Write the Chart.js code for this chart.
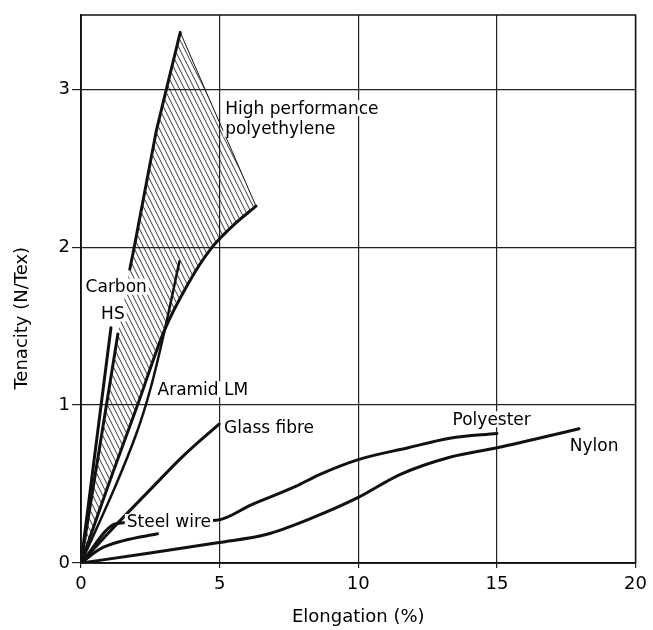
<!DOCTYPE html>
<html>
<head>
<meta charset="utf-8">
<script src="https://cdn.jsdelivr.net/npm/chart.js@4/dist/chart.umd.min.js"></script>
<style>
  html, body { margin: 0; padding: 0; background: #fff; }
  #wrap { width: 653px; height: 630px; position: relative; }
</style>
</head>
<body>
<div id="wrap"><canvas id="c"></canvas></div>
<script>
// Tenacity (N/Tex) against elongation (%) for common fibres and wire.
const xTicks = [0, 5, 10, 15, 20];
const yTicks = [0, 1, 2, 3];

// High performance polyethylene band: upper (left) edge ending at the right-hand corner, and lower edge
const hppeUpperX = [0, 1.33, 1.76, 1.92, 2.72, 3.08, 3.58, 6.31];
const hppeUpperY = [0, 1.45, 1.86, 2.00, 2.74, 3.00, 3.36, 2.26];
const hppeLowerX = [0, 1.00, 2.04, 3.00, 3.90, 4.73, 5.50, 6.31];
const hppeLowerY = [0, 0.50, 1.00, 1.47, 1.78, 2.00, 2.14, 2.26];

const carbonX = [0, 1.08];
const carbonY = [0, 1.49];

const aramidX = [0, 1.20, 2.00, 2.50, 3.00, 3.55];
const aramidY = [0, 0.47, 0.82, 1.10, 1.46, 1.91];

const glassX = [0, 1.04, 2.47, 3.70, 4.98];
const glassY = [0, 0.20, 0.46, 0.68, 0.88];

const steelX = [0, 0.70, 1.50, 2.76];
const steelY = [0, 0.09, 0.14, 0.185];

const polyesterX = [0, 1.30, 3.00, 4.87, 6.16, 7.74, 8.60, 10.0, 11.8, 13.3, 15.0];
const polyesterY = [0, 0.25, 0.265, 0.27, 0.37, 0.485, 0.56, 0.655, 0.73, 0.79, 0.82];

const nylonX = [0, 2.37, 4.98, 6.67, 8.40, 10.0, 11.5, 13.3, 15.0, 17.96];
const nylonY = [0, 0.06, 0.13, 0.18, 0.29, 0.415, 0.56, 0.67, 0.73, 0.85];

// Curve labels (anchor in data units)
const labelTexts = ['High performance', 'polyethylene', 'Carbon', 'HS', 'Aramid LM', 'Glass fibre', 'Steel wire', 'Polyester', 'Nylon'];
const labelX = [5.20, 5.20, 1.27, 1.15, 2.76, 5.16, 1.65, 13.40, 17.63];
const labelY = [2.88, 2.75, 1.75, 1.58, 1.10, 0.855, 0.26, 0.91, 0.745];
const labelAlign = ['left', 'left', 'center', 'center', 'left', 'left', 'left', 'left', 'left'];

const FONT = "'DejaVu Sans', sans-serif";
Chart.defaults.font.family = FONT;
Chart.defaults.color = '#000';

function hatchPattern() {
  const c = document.createElement('canvas');
  c.width = 5; c.height = 10;
  const g = c.getContext('2d');
  g.strokeStyle = '#222';
  g.lineWidth = 0.9;
  for (const dx of [-5, 0, 5]) {
    g.beginPath();
    g.moveTo(dx - 1, -2);
    g.lineTo(dx + 6, 12);
    g.stroke();
  }
  return g.createPattern(c, 'repeat');
}

function pts(xs, ys) { return xs.map((v, i) => ({ x: v, y: ys[i] })); }

function curve(xs, ys, width, extra) {
  return Object.assign({
    data: pts(xs, ys),
    borderColor: '#111',
    borderWidth: width,
    pointRadius: 0,
    fill: false,
    cubicInterpolationMode: 'monotone',
    borderCapStyle: 'round',
    borderJoinStyle: 'round'
  }, extra || {});
}

const smooth = { cubicInterpolationMode: 'default', tension: 0.3 };
const straight = { cubicInterpolationMode: 'default', tension: 0 };
const lastEdge = hppeUpperX.length - 2;

const datasets = [
  // hatched band between the two polyethylene edges
  curve(hppeUpperX, hppeUpperY, 1, Object.assign({
    borderColor: 'rgba(0,0,0,0)', fill: '+1', backgroundColor: hatchPattern()
  }, straight)),
  curve(hppeLowerX, hppeLowerY, 3, smooth),
  // drawn upper edge, broken behind the carbon label
  curve(hppeUpperX, hppeUpperY, 3, Object.assign({
    segment: {
      borderColor: c => (c.p0DataIndex === 1 ? 'rgba(0,0,0,0)' : '#111'),
      borderWidth: c => (c.p0DataIndex === lastEdge ? 1 : 3)
    }
  }, straight)),
  curve(carbonX, carbonY, 3, straight),
  curve(aramidX, aramidY, 2.5, smooth),
  curve(glassX, glassY, 3),
  curve(steelX, steelY, 3),
  curve(polyesterX, polyesterY, 3),
  curve(nylonX, nylonY, 3)
];

const fibreLabels = {
  id: 'fibreLabels',
  beforeDatasetsDraw(chart) {
    const { ctx, chartArea: a } = chart;
    ctx.save();
    ctx.strokeStyle = '#111';
    ctx.lineWidth = 1.5;
    ctx.strokeRect(a.left, a.top, a.right - a.left, a.bottom - a.top);
    ctx.restore();
  },
  afterDatasetsDraw(chart) {
    const { ctx, scales: { x, y } } = chart;
    ctx.save();
    ctx.font = '17px ' + FONT;
    ctx.textBaseline = 'middle';
    ctx.textAlign = 'left';
    labelTexts.forEach((t, i) => {
      const px = x.getPixelForValue(labelX[i]);
      const py = y.getPixelForValue(labelY[i]);
      const w = ctx.measureText(t).width;
      const left = labelAlign[i] === 'center' ? px - w / 2 : px;
      ctx.fillStyle = '#fff';
      ctx.fillRect(left - 2, py - 8, w + 4, 16);
      ctx.fillStyle = '#000';
      ctx.fillText(t, left, py + 1);
    });
    // vertical axis title
    ctx.font = '18px ' + FONT;
    ctx.textAlign = 'center';
    ctx.translate(22, y.getPixelForValue(1.55));
    ctx.rotate(-Math.PI / 2);
    ctx.fillText('Tenacity (N/Tex)', 0, 0);
    ctx.restore();
  }
};

new Chart(document.getElementById('c'), {
  type: 'line',
  data: { datasets },
  options: {
    responsive: true,
    maintainAspectRatio: false,
    animation: false,
    events: [],
    layout: { padding: { top: 15, right: 14, left: 0, bottom: 0 } },
    plugins: { legend: { display: false }, tooltip: { enabled: false } },
    scales: {
      x: {
        type: 'linear', min: 0, max: 20,
        afterBuildTicks: s => { s.ticks = xTicks.map(v => ({ value: v })); },
        afterFit: s => { s.height = 67; },
        ticks: { font: { size: 18 }, color: '#000', padding: 6, maxRotation: 0 },
        grid: { color: '#222', lineWidth: 1.2, tickLength: 5 },
        border: { display: true, color: '#111', width: 1.5 },
        title: { display: true, text: 'Elongation (%)', font: { size: 18 }, color: '#000', padding: { top: 0, bottom: 2 } }
      },
      y: {
        type: 'linear', min: 0, max: 3.47,
        afterBuildTicks: s => { s.ticks = yTicks.map(v => ({ value: v })); },
        afterFit: s => { s.width = 81; },
        ticks: { font: { size: 18 }, color: '#000', padding: 2 },
        grid: { color: '#222', lineWidth: 1.2, tickLength: 9 },
        border: { display: true, color: '#111', width: 1.5 }
      }
    }
  },
  plugins: [fibreLabels]
});
</script>
</body>
</html>
